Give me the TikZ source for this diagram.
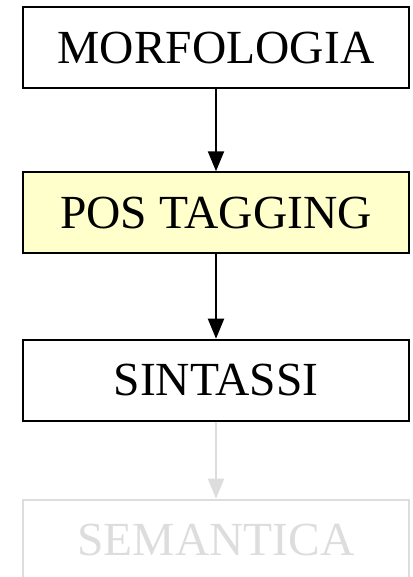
\documentclass[tikz,border=0pt]{standalone}
\usepackage{fontspec}
\setmainfont{Liberation Serif}
\usetikzlibrary{arrows.meta}
\definecolor{lightyel}{HTML}{FFFFCC}
\definecolor{fadegray}{HTML}{DDDDDD}
\tikzset{
  stagebox/.style={draw=black, line width=2pt, minimum width=386pt, minimum height=81pt,
    inner sep=0pt, font=\fontsize{47.5pt}{50pt}\selectfont, anchor=center},
  fadedbox/.style={stagebox, draw=fadegray, text=fadegray},
  flow/.style={line width=2pt, -{Triangle[width=16pt,length=20pt]}},
  fadedflow/.style={flow, draw=fadegray, fill=fadegray}
}
\begin{document}
\begin{tikzpicture}[x=1pt,y=-1pt]
\useasboundingbox (0,0) rectangle (412,577);
\clip (0,0) rectangle (412,577);
\node[stagebox] (morf) at (216,47.7) {MORFOLOGIA};
\node[stagebox, fill=lightyel] (pos) at (216,212.8) {POS TAGGING};
\node[stagebox] (sint) at (216,380.2) {SINTASSI};
\node[fadedbox] (sem) at (216,540.2) {SEMANTICA};
\draw[flow] (morf.south) -- (pos.north);
\draw[flow] (pos.south) -- (sint.north);
\draw[fadedflow] (sint.south) -- (sem.north);
\end{tikzpicture}
\end{document}
